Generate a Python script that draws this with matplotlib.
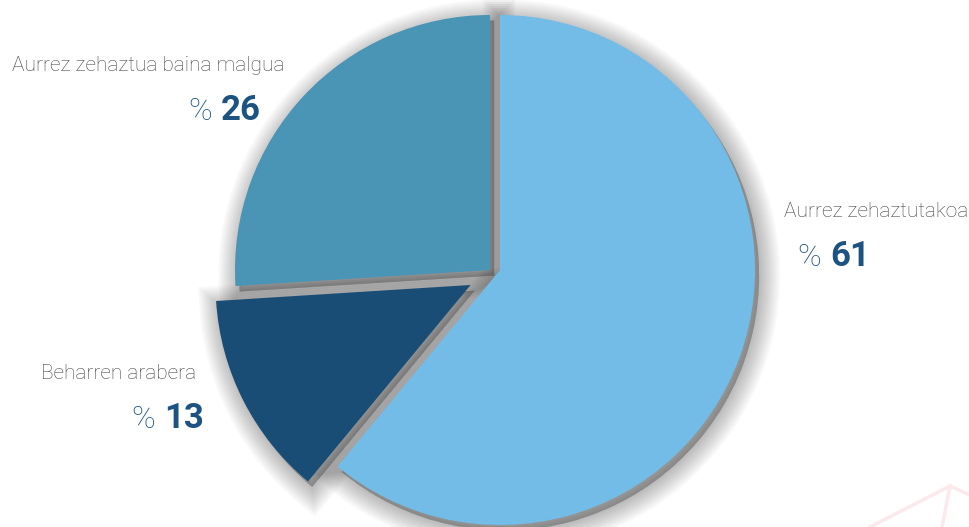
import matplotlib
matplotlib.use("Agg")
import matplotlib.pyplot as plt
from matplotlib.patches import Shadow

labels = ["Aurrez zehaztutakoa", "Beharren arabera", "Aurrez zehaztua baina malgua"]
values = [61, 13, 26]
colors = ["#72BCE7", "#1A4D75", "#4A94B6"]
explode = [0, 33, 11]

fig = plt.figure(figsize=(9.7, 5.27), dpi=100)
ax = fig.add_axes([0, 0, 1, 1])

wedges, _ = ax.pie(values, colors=colors, startangle=90, counterclock=False,
                   radius=255, center=(500, 257), explode=explode,
                   wedgeprops=dict(linewidth=0), frame=True)
ax.set_xlim(0, 970)
ax.set_ylim(0, 527)
ax.axis("off")
wedges[2].set_center((490, 257))

for w in wedges:
    w.set_zorder(3)
    for lw in [30, 27, 24, 21, 18, 15, 12, 9, 6, 3]:
        s = Shadow(w, 3, -4, facecolor="black", edgecolor="black",
                   alpha=0.028, linewidth=lw, zorder=2)
        ax.add_patch(s)

# faint decoration bottom right
ax.plot([870, 950, 970], [0, 41, 32], color="#FCE9EC", lw=2.5, zorder=1)
ax.plot([950, 942], [41, 0], color="#FCE9EC", lw=2.5, zorder=1)

fam = ["Roboto", "DejaVu Sans"]
gray = "#444444"
blue = "#1D5381"

def lab(x, y, text, pct, px, ha):
    ax.text(x, y, text, fontsize=15, color=gray, family=fam, fontweight="light",
            ha=ha, va="baseline", zorder=5)
    ax.text(px, y - 49, "%", fontsize=23, color=blue, family=fam,
            fontweight="light", ha="left", va="baseline", zorder=5)
    ax.text(px + 33, y - 49, str(pct), fontsize=25, color=blue, family=fam,
            fontweight="bold", ha="left", va="baseline", zorder=5)

lab(285, 527 - 71, labels[2], values[2], 188, "right")
lab(196, 527 - 379, labels[1], values[1], 131, "right")
lab(784, 527 - 217, labels[0], values[0], 797, "left")

fig.savefig("out.png", dpi=100)
